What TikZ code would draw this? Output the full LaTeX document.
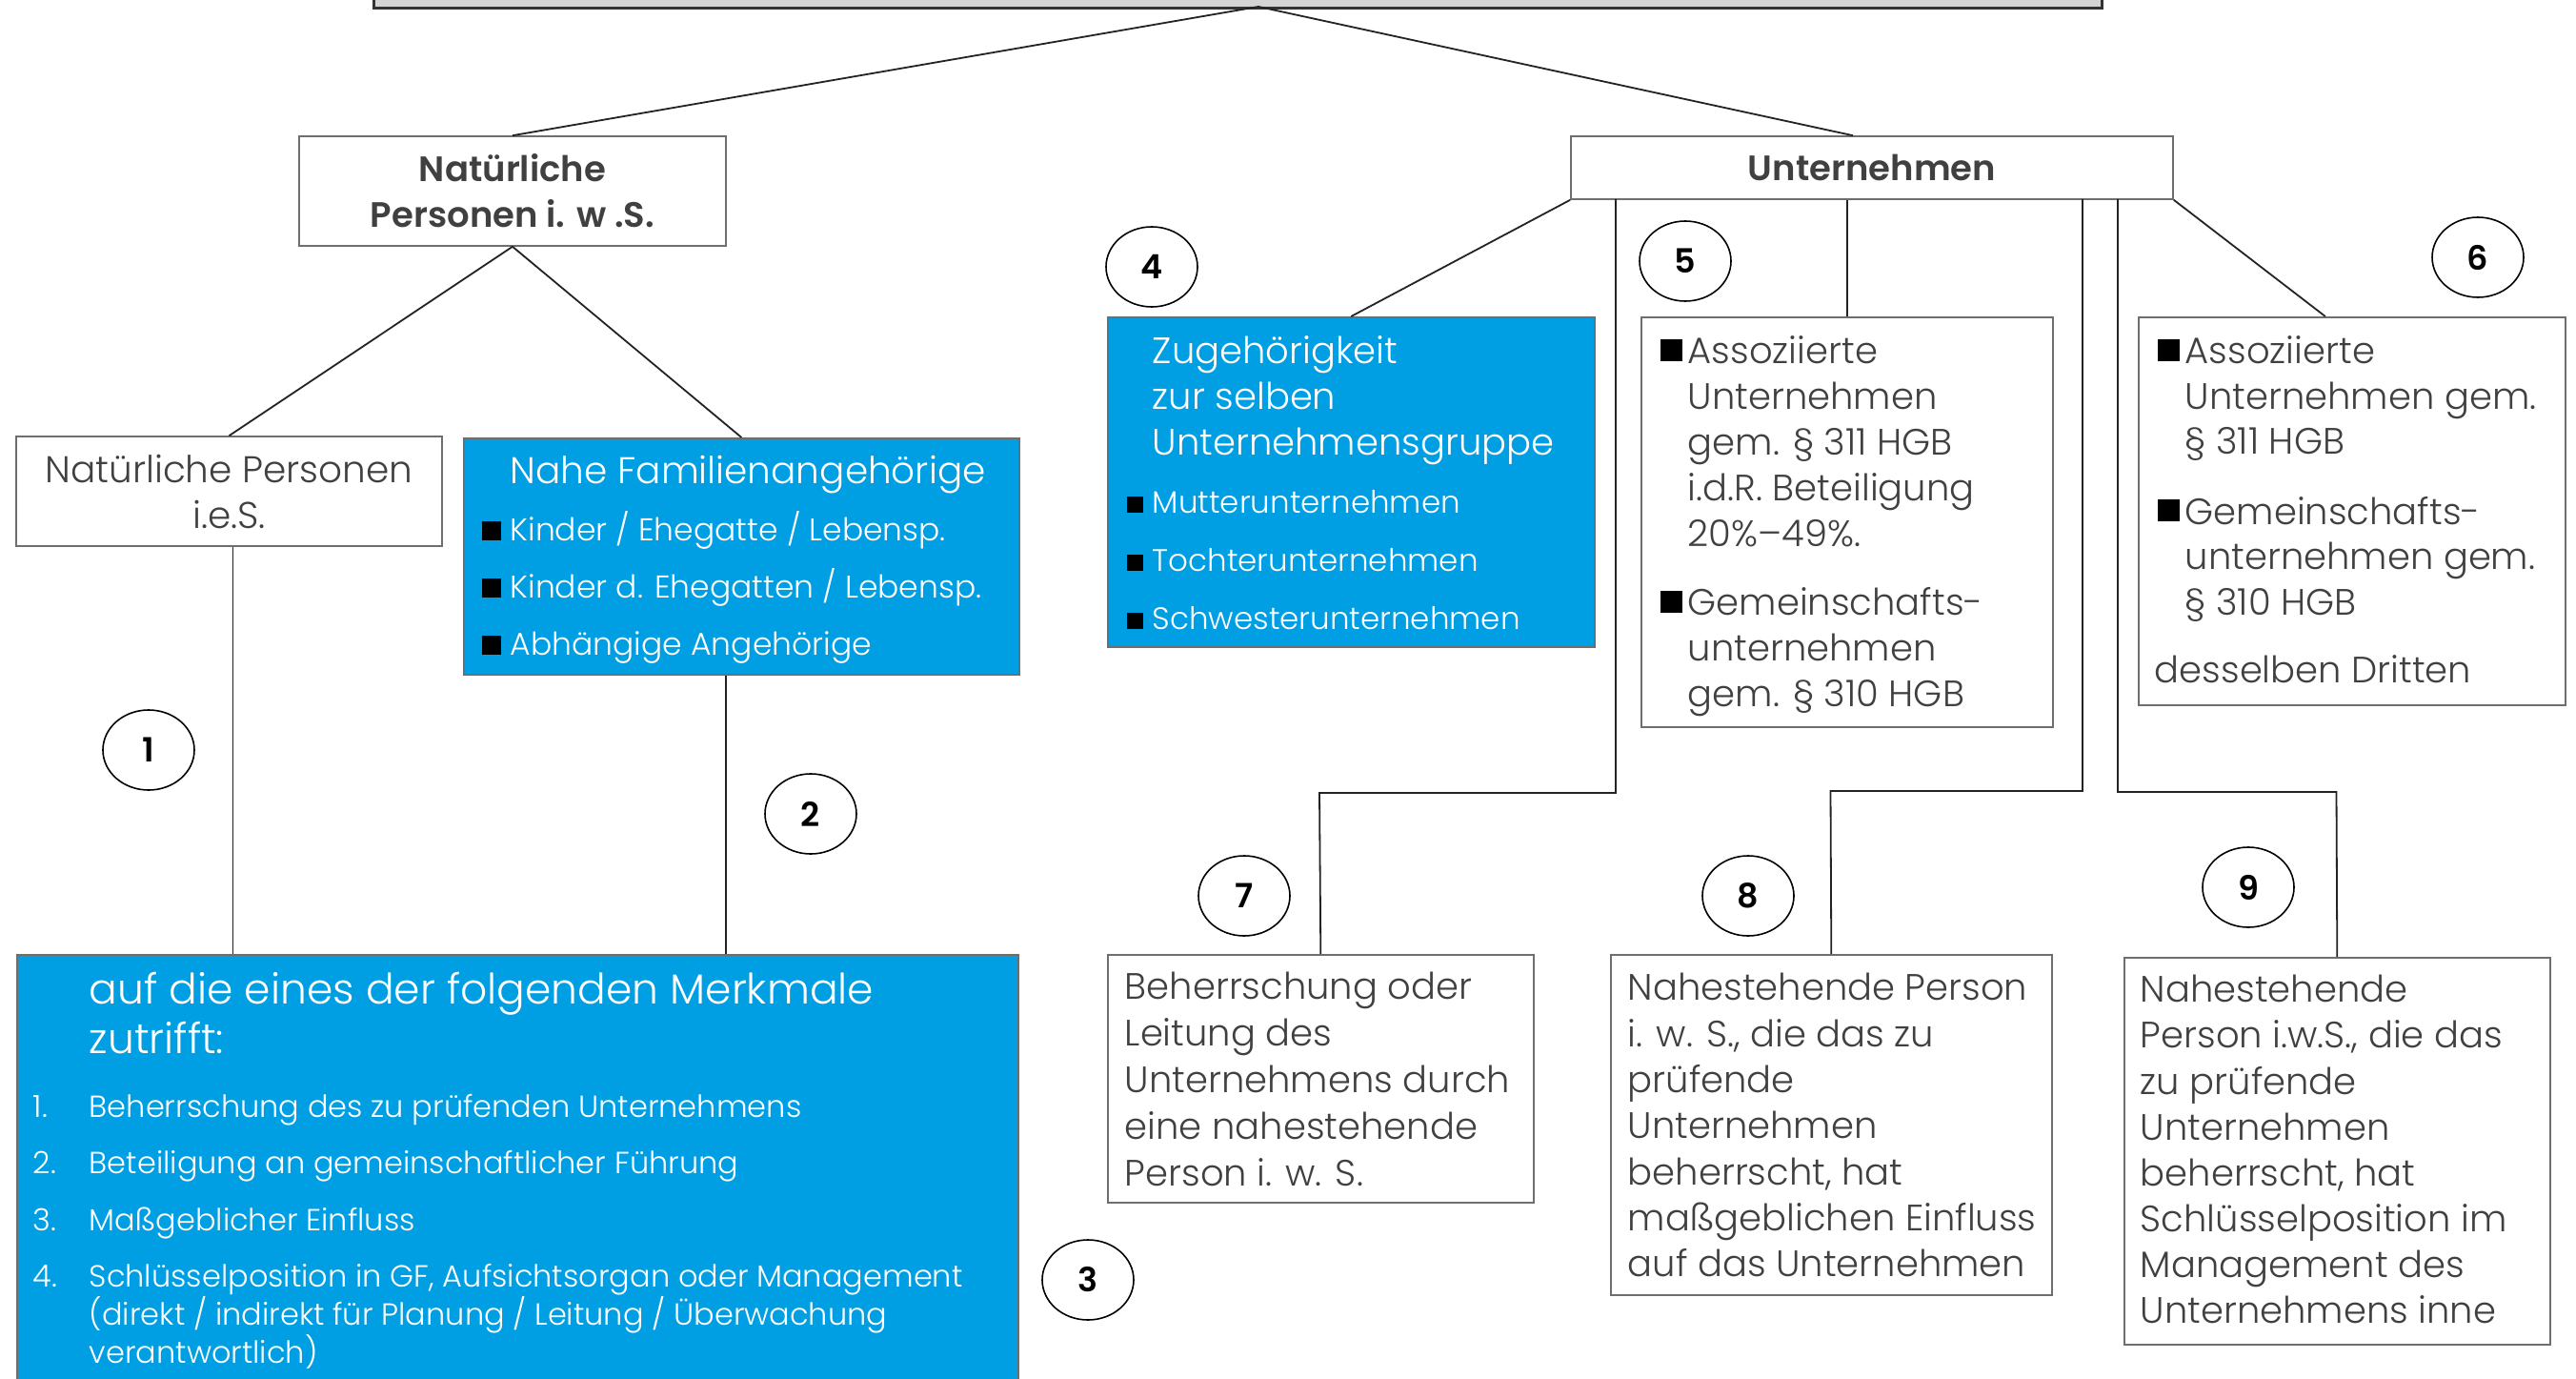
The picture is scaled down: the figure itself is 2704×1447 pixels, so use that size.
\documentclass[tikz,border=0pt]{standalone}
\usepackage{fontspec}
\setmainfont{Poppins}[UprightFont=* Light, BoldFont=* SemiBold]
\usetikzlibrary{shapes.geometric,calc}
\definecolor{myblue}{RGB}{0,159,227}
\definecolor{boxgray}{RGB}{110,110,110}
\definecolor{txtgray}{RGB}{64,64,64}
\definecolor{linedark}{RGB}{35,35,35}
\definecolor{topfill}{RGB}{212,212,212}
\newcommand{\fs}[2]{\fontsize{#1}{#2}\selectfont}
\newcommand{\tb}[3]{\parbox[t][#2][t]{#1}{\raggedright #3}}
\newcommand{\fl}[1]{\rule{0pt}{#1}}
\newcommand{\bsq}[3]{\leavevmode\llap{\textcolor{black}{\rule[#3]{#1}{#1}}\hspace{#2}}}
\tikzset{
  wbox/.style={draw=boxgray, line width=1.6pt, fill=white, text=txtgray, inner sep=0pt, anchor=north west},
  bbox/.style={draw=boxgray, line width=1.6pt, fill=myblue, text=white, inner sep=0pt, anchor=north west},
  numc/.style={ellipse, draw=black, line width=1.6pt, fill=white, minimum width=96pt, minimum height=84pt, inner sep=0pt, text=black, font=\fs{35}{38}\bfseries},
  conn/.style={draw=linedark, line width=1.8pt},
}
\begin{document}
\begin{tikzpicture}[x=1pt,y=-1pt]
\useasboundingbox (0,0) rectangle (2704,1447);
% top box
\node[draw=black!80, line width=2.6pt, fill=topfill, anchor=north west, minimum width=1814pt, minimum height=60pt, inner sep=0pt] (top) at (391,-53) {};
\coordinate (apex) at (1321,7);
% level 1
\node[wbox, minimum width=448pt, minimum height=115pt, align=center, font=\fs{37}{48}\bfseries, anchor=center] (nat) at (538,200.5) {Nat\"urliche\\Personen i. w .S.};
\node[wbox, minimum width=632pt, minimum height=66pt, align=center, font=\fs{37}{48}\bfseries, anchor=center] (unt) at (1965,176) {Unternehmen};
\draw[conn] (apex) -- (nat.north);
\draw[conn] (apex) -- ($(unt.north)+(-20,0)$);
% left branch
\node[wbox, minimum width=447pt, minimum height=115pt, align=center, font=\fs{39}{48}, anchor=center] (ies) at (240.5,515.5) {Nat\"urliche Personen\\i.e.S.};
\node[bbox] (nahe) at (486,459) {\hspace*{49pt}\tb{534pt}{248pt}{\fs{33}{60}\fl{48pt}{\fs{39}{48}Nahe Familienangeh\"orige\\}%
\bsq{20pt}{10pt}{1pt}Kinder / Ehegatte / Lebensp.\\
\bsq{20pt}{10pt}{1pt}Kinder d. Ehegatten / Lebensp.\\
\bsq{20pt}{10pt}{1pt}Abh\"angige Angeh\"orige}};
\draw[conn] (nat.south) -- (ies.north);
\draw[conn] (nat.south) -- (nahe.north);
% bottom left big box
\node[bbox] (big) at (17,1001) {\hspace*{17pt}\tb{1034pt}{480pt}{\fs{32}{40}%
\leftskip=59pt\fl{52pt}{\fs{44}{52}auf die eines der folgenden Merkmale\\zutrifft:\par}
\vspace{27pt}\noindent\llap{\makebox[59pt][l]{1.}}Beherrschung des zu pr\"ufenden Unternehmens\par
\vspace{19pt}\noindent\llap{\makebox[59pt][l]{2.}}Beteiligung an gemeinschaftlicher F\"uhrung\par
\vspace{20pt}\noindent\llap{\makebox[59pt][l]{3.}}Ma\ss geblicher Einfluss\par
\vspace{19pt}\noindent\llap{\makebox[59pt][l]{4.}}Schl\"usselposition in GF, Aufsichtsorgan oder Management\\(direkt / indirekt f\"ur Planung / Leitung / \"Uberwachung\\verantwortlich)}};
\coordinate (ib) at ($(ies.south)+(4,0)$);
\draw[conn] (ib) -- (ib |- big.north);
\coordinate (nb) at ($(nahe.south)+(-16,0)$);
\draw[conn] (nb) -- (nb |- big.north);
% right branch upper row
\node[bbox] (b4) at (1162,332) {\hspace*{47pt}\tb{464pt}{346pt}{\fs{32.5}{61}\fl{49pt}{\fs{38.5}{48}Zugeh\"origkeit\\zur selben\\Unternehmensgruppe\\}%
\bsq{17pt}{10pt}{1pt}Mutterunternehmen\\
\bsq{17pt}{10pt}{1pt}Tochterunternehmen\\
\bsq{17pt}{10pt}{1pt}Schwesterunternehmen}};
\node[wbox] (b5) at (1722,332) {\hspace*{49pt}\tb{383pt}{430pt}{\fs{38.5}{48}\fl{49pt}\bsq{23pt}{6pt}{3pt}Assoziierte\\Unternehmen\\gem. \S\ 311 HGB\\i.d.R. Beteiligung\\20\%--49\%.\\[24pt]
\bsq{23pt}{6pt}{3pt}Gemeinschafts-\\unternehmen\\gem. \S\ 310 HGB}};
\node[wbox] (b6) at (2244,332) {\hspace*{49pt}\tb{399pt}{407pt}{\fs{38.5}{47.5}\fl{49pt}\bsq{23pt}{6pt}{3pt}Assoziierte\\Unternehmen gem.\\\S\ 311 HGB\\[26pt]
\bsq{23pt}{6pt}{3pt}Gemeinschafts-\\unternehmen gem.\\\S\ 310 HGB\\[24pt]
\hspace*{-32pt}desselben Dritten}};
\draw[conn] (unt.south west) -- (b4.north);
\draw[conn] (b5.north |- unt.south) -- (b5.north);
\draw[conn] (unt.south east) -- ($(b6.north)+(-28,0)$);
% lower row
\node[wbox] (b7) at (1162,1001) {\hspace*{18pt}\tb{429pt}{260pt}{\fs{38.5}{49}\fl{47pt}Beherrschung oder\\Leitung des\\Unternehmens durch\\eine nahestehende\\Person i. w. S.}};
\node[wbox] (b8) at (1690,1001) {\hspace*{18pt}\tb{445pt}{357pt}{\fs{38.5}{48.3}\fl{48pt}Nahestehende Person\\i. w. S., die das zu\\pr\"ufende\\Unternehmen\\beherrscht, hat\\ma\ss geblichen Einfluss\\auf das Unternehmen}};
\node[wbox] (b9) at (2229,1004) {\hspace*{17pt}\tb{430pt}{406pt}{\fs{38.5}{48.1}\fl{47pt}Nahestehende\\Person i.w.S., die das\\zu pr\"ufende\\Unternehmen\\beherrscht, hat\\Schl\"usselposition im\\Management des\\Unternehmens inne}};
\coordinate (u7) at (1696,209);
\coordinate (u8) at (2186,209);
\coordinate (u9) at (2223,209);
\draw[conn] (u7) |- (1385,832) -- (b7.north);
\draw[conn] (u8) |- (1921.5,830) -- (b8.north);
\draw[conn] (u9) |- (2452.5,831) -- (b9.north);
% numbers
\node[numc] (n1) at (156,787) {1};
\node[numc] (n2) at (851,854) {2};
\node[numc] (n3) at (1142,1343) {3};
\node[numc] (n4) at (1209,280) {4};
\node[numc] (n5) at (1769,274) {5};
\node[numc] (n6) at (2601,270) {6};
\node[numc] (n7) at (1306,940) {7};
\node[numc] (n8) at (1835,940) {8};
\node[numc] (n9) at (2360,931) {9};
\end{tikzpicture}
\end{document}
